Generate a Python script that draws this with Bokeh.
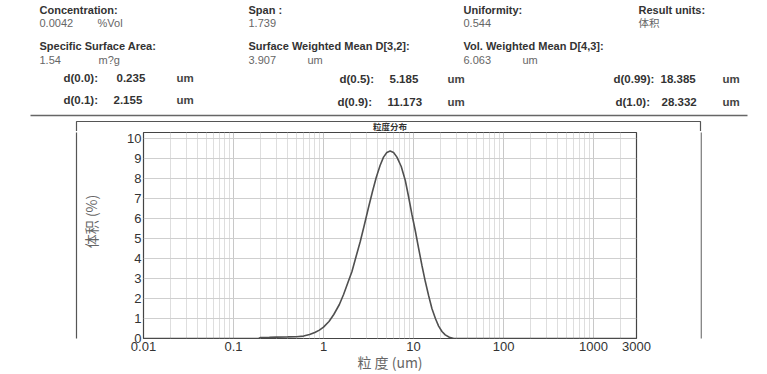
from bokeh.plotting import figure
from bokeh.layouts import column, row
from bokeh.models import FixedTicker, CustomJSTickFormatter, Range1d, ColumnDataSource
from bokeh.core.properties import value
from bokeh.embed import file_html
from bokeh.resources import INLINE
import math

# ---- data ----
size_um = [0.01, 0.19, 0.2, 0.25, 0.3, 0.4, 0.5, 0.6, 0.7, 0.8, 0.9, 1.0, 1.15, 1.3, 1.5,
           1.67, 1.85, 2.07, 2.3, 2.56, 2.85, 3.16, 3.5, 3.85, 4.25, 4.64, 5.05, 5.5, 6.0,
           6.54, 7.3, 8.1, 8.8, 9.6, 10.5, 11.4, 12.4, 13.5, 14.7, 16.0, 17.5, 19.0, 20.7,
           22.5, 25.0, 28.0, 3000]
volume_pct = [0, 0, 0.05, 0.06, 0.07, 0.08, 0.09, 0.12, 0.2, 0.3, 0.42, 0.57, 0.85, 1.2, 1.7,
              2.2, 2.75, 3.35, 4.1, 4.85, 5.7, 6.55, 7.35, 8.05, 8.65, 9.07, 9.3, 9.37, 9.3,
              9.07, 8.6, 7.9, 7.1, 6.2, 5.35, 4.5, 3.65, 2.86, 2.15, 1.5, 1.0, 0.62, 0.35,
              0.18, 0.06, 0.0, 0]

x_ticks = [0.01, 0.1, 1, 10, 100, 1000, 3000]
y_ticks = [0, 1, 2, 3, 4, 5, 6, 7, 8, 9, 10]

summary_labels = ["Concentration:", "Span :", "Uniformity:", "Result units:"]
summary_values = ["0.0042", "1.739", "0.544", "体积"]
summary_units = ["%Vol", "", "", ""]
mean_labels = ["Specific Surface Area:", "Surface Weighted Mean D[3,2]:", "Vol. Weighted Mean D[4,3]:"]
mean_values = ["1.54", "3.907", "6.063"]
mean_units = ["m?g", "um", "um"]
d_labels = ["d(0.0):", "d(0.1):", "d(0.5):", "d(0.9):", "d(0.99):", "d(1.0):"]
d_values = ["0.235", "2.155", "5.185", "11.173", "18.385", "28.332"]

chart_title = "粒度分布"
x_label = "粒 度 (um)"
y_label = "体积 (%)"

# ---- layout (page px) ----
PAGE_W = 767
PAGE_H = 374
HEAD_H = 131
BOX_L, BOX_R, BOX_T = 76, 700, 121
FL, FR, FT, FB = 143, 636, 132, 338
CH_L = 105
CH_W = BOX_R - CH_L
BODY_H = PAGE_H - HEAD_H
LATIN = "Liberation Sans"
CJK = "Noto Sans CJK SC"
BOX_COLOR = "#555555"


def blank(w, h, x0, y0):
    f = figure(width=w, height=h, x_range=Range1d(x0, x0 + w), y_range=Range1d(y0 + h, y0),
               output_backend="svg", toolbar_location=None, min_border=0,
               x_axis_location=None, y_axis_location=None)
    f.grid.visible = False
    f.outline_line_color = None
    f.background_fill_color = "white"
    f.border_fill_color = "white"
    return f


def txt(f, xs, ys, texts, size="11px", bold=False, color="#333333", font=LATIN,
        align="left", angle=0.0):
    src = ColumnDataSource(dict(x=xs, y=ys, t=texts))
    f.text(x="x", y="y", text="t", source=src, text_font=value(font), text_font_size=size,
           text_font_style="bold" if bold else "normal", text_color=color,
           text_align=align, text_baseline="middle", angle=angle)


# ---- header ----
head = blank(PAGE_W, HEAD_H, 0, 0)
cols = [39, 248, 463, 638]
txt(head, cols, [9] * 4, summary_labels, bold=True)
lat = [(c, v) for c, v in zip(cols, summary_values) if all(ord(ch) < 256 for ch in v)]
cjk = [(c, v) for c, v in zip(cols, summary_values) if any(ord(ch) > 255 for ch in v)]
txt(head, [c for c, _ in lat], [22] * len(lat), [v for _, v in lat], color="#666666")
txt(head, [c for c, _ in cjk], [22] * len(cjk), [v for _, v in cjk], color="#666666", font=CJK,
    size="10.5px")
un = [(c + 58, u) for c, u in zip(cols, summary_units) if u]
txt(head, [c for c, _ in un], [22] * len(un), [u for _, u in un], color="#666666")

txt(head, cols[:3], [45] * 3, mean_labels, bold=True)
txt(head, cols[:3], [59] * 3, mean_values, color="#666666")
txt(head, [c + 59 for c in cols[:3]], [59] * 3, mean_units, color="#666666")

d_lx = [63, 63, 339, 337, 613, 615]
d_y = [77, 99, 78, 101, 78, 101]
d_vx = [116, 113, 389, 387, 660, 661]
d_ux = [176, 176, 447, 447, 722, 722]
txt(head, d_lx, d_y, d_labels, size="11.5px", bold=True)
txt(head, d_vx, d_y, d_values, size="11.5px", bold=True)
txt(head, d_ux, d_y, ["um"] * 6, size="11.5px", bold=True, color="#444444")

head.segment(x0=[30], y0=[115], x1=[747], y1=[115], line_color="#666666", line_width=1.6)
head.line(x=[BOX_L, BOX_L, BOX_R, BOX_R], y=[HEAD_H + 2, BOX_T, BOX_T, HEAD_H + 2],
          line_color=BOX_COLOR, line_width=1.2)
txt(head, [(FL + FR) / 2], [125.5], [chart_title], size="8.5px", bold=True, color="#333333",
    font=CJK, align="center")

# ---- side strips ----
left = blank(CH_L, BODY_H, 0, HEAD_H)
left.segment(x0=[BOX_L], y0=[HEAD_H - 2], x1=[BOX_L], y1=[PAGE_H + 5], line_color=BOX_COLOR,
             line_width=1.2)
txt(left, [90], [236], [y_label], size="14px", color="#666666", font=CJK, align="center",
    angle=math.pi / 2)
right = blank(PAGE_W - BOX_R, BODY_H, BOX_R, HEAD_H)
right.segment(x0=[BOX_R + 0.6], y0=[HEAD_H - 2], x1=[BOX_R + 0.6], y1=[PAGE_H + 5],
              line_color=BOX_COLOR, line_width=1.2)

# ---- chart ----
minor = [k * 10.0 ** e for e in range(-2, 4) for k in range(2, 10) if k * 10.0 ** e <= 3000]

p = figure(width=CH_W, height=BODY_H, x_axis_type="log", output_backend="svg",
           toolbar_location=None, x_range=Range1d(0.01, 3000), y_range=Range1d(0, 10.3),
           min_border_left=FL - CH_L, min_border_top=FT - HEAD_H,
           min_border_right=BOX_R - FR, min_border_bottom=PAGE_H - FB)
p.background_fill_color = "white"
p.border_fill_color = "white"
p.outline_line_color = "#444444"
p.outline_line_width = 1.2

p.xaxis.ticker = FixedTicker(ticks=x_ticks, minor_ticks=minor)
p.xaxis.formatter = CustomJSTickFormatter(code="return String(tick)")
p.yaxis.ticker = FixedTicker(ticks=y_ticks)
for ax in (p.xaxis, p.yaxis):
    ax.axis_line_color = None
    ax.major_tick_line_color = None
    ax.minor_tick_line_color = None
    ax.major_label_text_font = LATIN
    ax.major_label_text_font_size = "13px"
    ax.major_label_text_color = "#333333"
p.xaxis.major_label_standoff = -3
p.yaxis.major_label_standoff = -4
p.xaxis.axis_label = x_label
p.xaxis.axis_label_standoff = -2
p.xaxis.axis_label_text_font = CJK
p.xaxis.axis_label_text_font_size = "14px"
p.xaxis.axis_label_text_font_style = "normal"
p.xaxis.axis_label_text_color = "#666666"

p.xgrid.grid_line_color = "#c8c8c8"
p.xgrid.minor_grid_line_color = "#dedede"
p.ygrid.grid_line_color = "#cfcfcf"

p.line(size_um, volume_pct, line_color="#505050", line_width=1.6)

layout = column(head, row(left, p, right, spacing=0), spacing=0)
open("out.html", "w").write(file_html(layout, INLINE))
